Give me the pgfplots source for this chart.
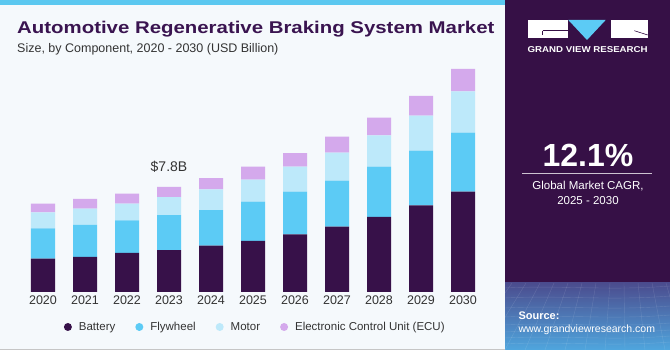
\documentclass[border=0pt]{standalone}
\usepackage{pgfplots}
\pgfplotsset{compat=1.18}
\usepackage{fontspec}
\setmainfont{Liberation Sans}
\definecolor{bg}{HTML}{F5F9FC}
\definecolor{panel}{HTML}{361046}
\definecolor{panelt}{HTML}{4B4C8E}
\definecolor{panelb}{HTML}{4FA6DE}
\definecolor{cBat}{HTML}{371149}
\definecolor{cFly}{HTML}{5CCBF5}
\definecolor{cMot}{HTML}{BDE9FA}
\definecolor{cEcu}{HTML}{D4A9EC}
\definecolor{stripe}{HTML}{5BC8F0}
\definecolor{titlec}{HTML}{3A1450}
\definecolor{txt}{HTML}{333333}
\pgfplotsset{circlegend/.style={legend image code/.code={\fill[##1] (4pt,0pt) circle (4pt);}}}
\begin{document}
\begin{tikzpicture}
\useasboundingbox (0,0) rectangle (670pt,350pt);
\fill[bg] (0,0) rectangle (670pt,350pt);
\fill[stripe] (0,345pt) rectangle (505pt,350pt);
\draw[gray!45, line width=1pt] (0,0.5pt) -- (505pt,0.5pt);
% right panel
\fill[panel] (505pt,0) rectangle (670pt,350pt);
\shade[top color=panelt, bottom color=panelb] (505pt,0) rectangle (670pt,67pt);
\begin{scope}
\clip (505pt,0) rectangle (670pt,67pt);
\foreach \yy in {6,12,18,25,33,42,52,62} {\draw[white, opacity=0.13, line width=0.4pt] (505pt,\yy pt) .. controls (560pt,\yy pt+3pt) and (610pt,\yy pt-3pt) .. (670pt,\yy pt+2pt);}
\foreach \xx in {-40,-20,0,20,40,60,80,100,120,140,160,180,200} {\draw[white, opacity=0.13, line width=0.4pt] (505pt+\xx pt,0pt) -- (540pt+0.7*\xx pt,67pt);}
\end{scope}
% logo
\fill[white] (527.7pt,311.7pt) rectangle (568.3pt,330pt);
\fill[cFly] (568.3pt,330pt) -- (605.7pt,330pt) -- (587pt,310pt) -- cycle;
\fill[white] (611pt,311.7pt) rectangle (647.7pt,330pt);
\draw[panel, line width=0.6pt] (542.7pt,319.3pt) -- (568.3pt,319.3pt);
\draw[panel, line width=0.6pt] (542.7pt,319.3pt) -- (542.7pt,315pt);
\draw[panel, line width=0.6pt] (634.3pt,319.3pt) -- (647.7pt,315pt);
\node[anchor=base, text=white, inner sep=0, font=\bfseries\fontsize{8.5}{10}\selectfont] at (587.7pt,297.3pt) {\scalebox{1.14}[1]{GRAND VIEW RESEARCH}};
\node[anchor=base, text=white, inner sep=0, font=\bfseries\fontsize{32}{36}\selectfont] at (588pt,183.3pt) {12.1\%};
\draw[white!75!panel, line width=0.8pt] (522pt,176.7pt) -- (652pt,176.7pt);
\node[anchor=base, text=white, inner sep=0, font=\fontsize{11.5}{13}\selectfont] at (588pt,160.7pt) {Global Market CAGR,};
\node[anchor=base, text=white, inner sep=0, font=\fontsize{11.5}{13}\selectfont] at (588pt,145.7pt) {2025 - 2030};
\node[anchor=base west, text=white, inner sep=0, font=\bfseries\fontsize{11}{13}\selectfont] at (518.3pt,30.7pt) {Source:};
\node[anchor=base west, text=white, inner sep=0, font=\fontsize{10.5}{12}\selectfont] at (518.3pt,17.3pt) {www.grandviewresearch.com};
% titles
\node[anchor=base west, text=titlec, inner sep=0, font=\bfseries\fontsize{17}{19}\selectfont] at (17pt,316.7pt) {\scalebox{1.2}[1]{Automotive Regenerative Braking System Market}};
\node[anchor=base west, text=txt, inner sep=0, font=\fontsize{12.5}{14}\selectfont] at (17pt,297.7pt) {Size, by Component, 2020 - 2030 (USD Billion)};
\begin{axis}[
  at={(1pt,58pt)}, anchor=south west,
  scale only axis, width=504pt, height=229.5pt,
  xmin=-1, xmax=11, ymin=0, ymax=17,
  ybar stacked, bar width=24pt,
  axis line style={draw=none},
  major tick length=0pt,
  ytick=\empty,
  xtick={0,...,10},
  xticklabels={2020,2021,2022,2023,2024,2025,2026,2027,2028,2029,2030},
  xticklabel style={font=\fontsize{12.5}{14}\selectfont, text=txt},
  /pgf/number format/assume math mode=true,
  every axis plot post/.append style={circlegend},
  legend columns=4,
  legend style={at={(0.1244,-0.1525)}, anchor=west, draw=none, fill=none, inner sep=0pt,
    font=\fontsize{11.5}{13}\selectfont, text=txt,
    /tikz/every odd column/.append style={column sep=5pt},
    /tikz/every even column/.append style={column sep=18pt}},
  clip=false,
]
\addplot[fill=cBat, draw=none] coordinates {(0,2.47) (1,2.61) (2,2.89) (3,3.11) (4,3.43) (5,3.78) (6,4.27) (7,4.84) (8,5.56) (9,6.41) (10,7.43)};
\addplot[fill=cFly, draw=none] coordinates {(0,2.24) (1,2.37) (2,2.41) (3,2.59) (4,2.64) (5,2.91) (6,3.16) (7,3.41) (8,3.73) (9,4.07) (10,4.37)};
\addplot[fill=cMot, draw=none] coordinates {(0,1.19) (1,1.19) (2,1.24) (3,1.33) (4,1.53) (5,1.63) (6,1.85) (7,2.07) (8,2.32) (9,2.59) (10,3.06)};
\addplot[fill=cEcu, draw=none] coordinates {(0,0.64) (1,0.72) (2,0.74) (3,0.76) (4,0.84) (5,0.96) (6,1.01) (7,1.19) (8,1.31) (9,1.46) (10,1.66)};
\legend{Battery, Flywheel, Motor, Electronic Control Unit (ECU)}
\node[anchor=south, text=txt, font=\fontsize{14}{16}\selectfont, inner sep=0] at (axis cs:3,7.79) [yshift=14pt] {\$7.8B};
\end{axis}
\end{tikzpicture}
\end{document}
